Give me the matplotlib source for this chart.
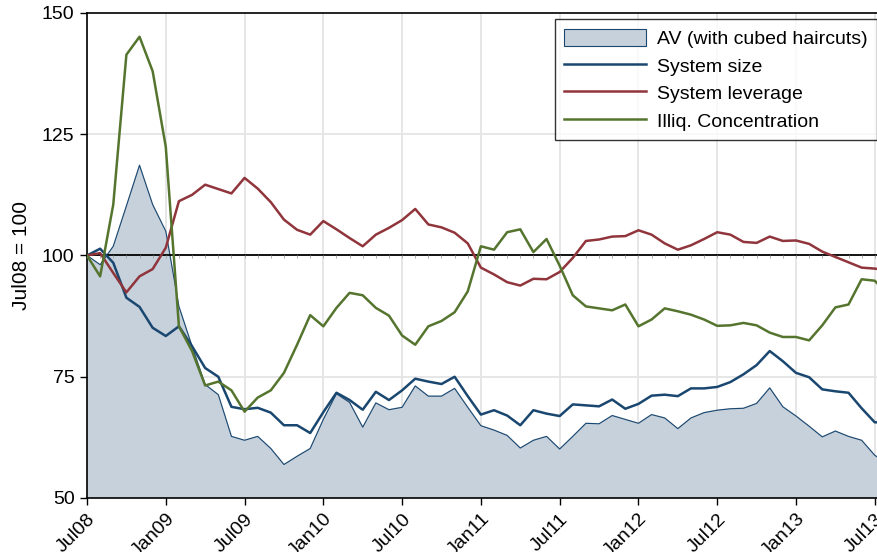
import numpy as np
import matplotlib.pyplot as plt

plt.rcParams['font.family'] = ['Liberation Sans', 'DejaVu Sans']

# monthly index values, Jul08 = 100 (Jul08 .. Aug13)
av_cubed = [100.0, 98.1, 101.9, 110.2, 118.6, 110.5, 105.0, 89.5, 81.3, 73.4,
            71.3, 62.7, 61.9, 62.7, 60.2, 56.9, 58.6, 60.2, 66.2, 71.5,
            69.7, 64.6, 69.6, 68.2, 68.7, 73.1, 71.0, 71.0, 72.6, 68.7,
            64.9, 64.0, 62.9, 60.3, 61.9, 62.7, 60.1, 62.7, 65.4, 65.3,
            67.0, 66.2, 65.4, 67.2, 66.5, 64.3, 66.5, 67.6, 68.1, 68.4,
            68.5, 69.5, 72.7, 68.8, 66.9, 64.8, 62.6, 63.8, 62.7, 61.9,
            58.8, 57.0]
system_size = [100.0, 101.4, 98.5, 91.3, 89.4, 85.1, 83.4, 85.4, 81.3, 76.8,
               75.0, 68.8, 68.3, 68.6, 67.6, 65.0, 65.0, 63.4, 67.7, 71.7,
               70.2, 68.2, 71.9, 70.2, 72.2, 74.6, 74.0, 73.5, 75.0, 71.0,
               67.2, 68.1, 67.0, 65.0, 68.1, 67.4, 66.9, 69.3, 69.1, 68.9,
               70.3, 68.4, 69.4, 71.1, 71.3, 71.0, 72.6, 72.6, 72.9, 73.9,
               75.5, 77.4, 80.3, 78.2, 75.8, 74.9, 72.4, 72.0, 71.7, 68.5,
               65.6, 65.6]
system_leverage = [100.0, 100.5, 96.4, 92.4, 95.7, 97.2, 101.6, 111.2, 112.5, 114.6,
                   113.7, 112.8, 116.0, 113.8, 111.0, 107.4, 105.3, 104.3, 107.1, 105.4,
                   103.6, 101.9, 104.3, 105.7, 107.3, 109.6, 106.4, 105.8, 104.7, 102.5,
                   97.5, 96.1, 94.5, 93.8, 95.2, 95.1, 96.6, 99.5, 103.0, 103.3,
                   103.9, 104.0, 105.2, 104.3, 102.5, 101.2, 102.1, 103.4, 104.8, 104.3,
                   102.8, 102.6, 103.9, 103.0, 103.1, 102.4, 100.8, 99.7, 98.6, 97.5,
                   97.3, 96.9]
illiq_conc = [100.0, 95.7, 110.5, 141.4, 145.1, 138.0, 122.4, 85.4, 80.3, 73.2,
              74.0, 72.2, 67.8, 70.7, 72.2, 75.8, 81.6, 87.7, 85.4, 89.2,
              92.3, 91.8, 89.2, 87.6, 83.5, 81.6, 85.4, 86.5, 88.3, 92.6,
              101.9, 101.2, 104.8, 105.4, 100.7, 103.4, 97.9, 91.8, 89.5, 89.1,
              88.7, 89.9, 85.4, 86.8, 89.1, 88.5, 87.8, 86.8, 85.5, 85.6,
              86.1, 85.6, 84.1, 83.2, 83.2, 82.5, 85.6, 89.3, 89.9, 95.1,
              94.8, 92.0]

tick_labels = ['Jul08', 'Jan09', 'Jul09', 'Jan10', 'Jul10', 'Jan11',
               'Jul11', 'Jan12', 'Jul12', 'Jan13', 'Jul13']

navy = '#1a476f'
maroon = '#90353b'
forest = '#55752f'
fill_col = '#c6d1dc'

months = np.arange(len(av_cubed))

fig = plt.figure(figsize=(8.78, 5.52), dpi=100)
ax = fig.add_axes([87 / 878, 1 - 498 / 552, 1 - 87 / 878 + 0.002, (498 - 13) / 552])

# grid
for t in range(0, 61, 6):
    ax.axvline(t, color='#e4e4e4', lw=1.3, zorder=0)
for v in (75, 125):
    ax.axhline(v, color='#e4e4e4', lw=1.3, zorder=0)

ax.fill_between(months, 0, av_cubed, color=fill_col, zorder=1,
                label='AV (with cubed haircuts)')
ax.plot(months, av_cubed, color=navy, lw=0.8, zorder=2)
ax.axhline(100, color='black', lw=1.3, zorder=3)
ax.vlines(months, 99.4, 100, color='#a0a0a0', lw=0.6, zorder=3)

ax.plot(months, system_size, color=navy, lw=1.8, label='System size', zorder=4)
ax.plot(months, system_leverage, color=maroon, lw=1.8, label='System leverage', zorder=4)
ax.plot(months, illiq_conc, color=forest, lw=1.8, label='Illiq. Concentration', zorder=4)

ax.set_xlim(0, 60.38)
ax.set_ylim(50, 150)
ax.set_yticks([50, 75, 100, 125, 150])
ax.set_xticks(np.arange(0, 61, 6))
ax.set_xticklabels(tick_labels, rotation=45, ha='right', rotation_mode='anchor')
ax.tick_params(axis='both', labelsize=14, length=5, width=1, color='black', pad=4)
ax.set_ylabel('Jul08 = 100', fontsize=15, labelpad=8)

for s in ('left', 'bottom', 'top'):
    ax.spines[s].set_linewidth(1.2)
ax.spines['right'].set_visible(False)

from matplotlib.patches import Patch
from matplotlib.lines import Line2D
handles = [Patch(facecolor=fill_col, edgecolor=navy, lw=0.8),
           Line2D([], [], color=navy, lw=1.8),
           Line2D([], [], color=maroon, lw=1.8),
           Line2D([], [], color=forest, lw=1.8)]
labels = ['AV (with cubed haircuts)', 'System size', 'System leverage', 'Illiq. Concentration']
leg = fig.legend(handles, labels, loc='upper right', bbox_to_anchor=(877 / 878, 1 - 19 / 552),
                 fontsize=14, frameon=True, fancybox=False, edgecolor='black',
                 handlelength=4.2, handleheight=1.0, labelspacing=0.42, borderpad=0.5,
                 handletextpad=0.55, borderaxespad=0)
leg.get_frame().set_linewidth(1.0)

fig.savefig('out.png', dpi=100)
